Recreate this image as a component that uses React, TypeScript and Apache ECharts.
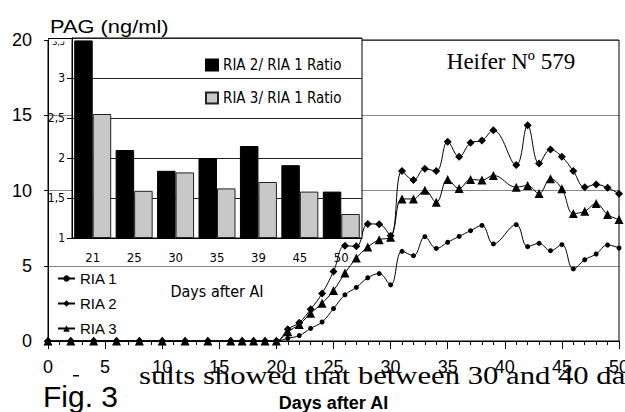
import React, { useEffect, useRef } from "react";
import * as echarts from "echarts";

// ---- Data ----
const days = [0, 2, 4, 6, 8, 10, 12, 14, 16, 17, 18, 19, 20, 21, 22, 23, 24, 25, 26, 27, 28, 29, 30, 31, 32, 33, 34, 35, 36, 37, 38, 39, 41, 42, 43, 44, 45, 46, 47, 48, 49, 50];
const ria1 = [0, 0, 0, 0, 0, 0, 0, 0, 0, 0, 0, 0, 0, 0.18, 0.36, 0.84, 1.26, 2.15, 3.07, 3.56, 4.2, 4.48, 3.73, 5.96, 5.67, 6.93, 6.15, 6.56, 6.95, 7.33, 7.68, 6.45, 7.73, 6.27, 6.49, 6.0, 6.4, 4.79, 5.4, 5.78, 6.38, 6.18];
const ria2 = [0, 0, 0, 0, 0, 0, 0, 0, 0, 0, 0, 0, 0, 0.78, 1.22, 2.11, 3.16, 4.62, 6.33, 6.29, 7.78, 7.76, 7.0, 11.29, 10.69, 11.44, 11.29, 13.24, 12.24, 13.17, 13.33, 14.0, 11.69, 14.33, 11.8, 12.73, 12.24, 11.29, 10.22, 10.4, 10.18, 9.78];
const ria3 = [0, 0, 0, 0, 0, 0, 0, 0, 0, 0, 0, 0, 0, 0.62, 1.1, 1.84, 2.51, 3.36, 4.51, 5.51, 6.24, 6.73, 6.9, 9.44, 9.44, 10.02, 9.22, 10.73, 10.13, 10.73, 10.69, 11.0, 10.22, 10.33, 9.8, 10.78, 10.11, 8.47, 8.62, 9.13, 8.4, 8.07];

const insetDays = ["21", "25", "30", "35", "39", "45", "50"];
const ratio2 = [3.47, 2.1, 1.84, 2.0, 2.15, 1.91, 1.58];
const ratio3 = [2.55, 1.59, 1.82, 1.62, 1.7, 1.58, 1.3];

const seriesNames = ["RIA 1", "RIA 2", "RIA 3"];
const ratioNames = ["RIA 2/ RIA 1 Ratio", "RIA 3/ RIA 1 Ratio"];

const SANS = "'Liberation Sans', Arial, Helvetica, sans-serif";
const COND = "'Liberation Sans Narrow', 'Arial Narrow', 'DejaVu Sans Condensed', sans-serif";
const SERIF = "'Liberation Serif', 'Times New Roman', serif";

function pairs(vals: number[]) {
  return days.map((d, i) => [d, vals[i]]);
}

function buildOption(): any {
  const lineCommon = {
    type: "line",
    xAxisIndex: 0,
    yAxisIndex: 0,
    smooth: 0.4,
    z: 3,
    itemStyle: { color: "#000" },
    lineStyle: { color: "#000", width: 1 },
  };
  return {
    animation: false,
    backgroundColor: "#fff",
    grid: [
      { left: 48, top: 40, width: 571, height: 301, show: true, borderColor: "#000", borderWidth: 1, z: 2, containLabel: false, outerBoundsMode: "none" },
      { left: 72, top: 38, width: 290, height: 200, show: true, backgroundColor: "#fff", borderColor: "#000", borderWidth: 1, z: 5, containLabel: false, outerBoundsMode: "none" },
    ],
    xAxis: [
      {
        gridIndex: 0,
        type: "value",
        min: 0,
        max: 50,
        interval: 5,
        axisLine: { lineStyle: { color: "#000", width: 1 } },
        axisTick: { length: 8, lineStyle: { color: "#000" } },
        minorTick: { show: true, splitNumber: 5, length: 4, lineStyle: { color: "#000" } },
        splitLine: { show: false },
        axisLabel: { fontSize: 18, color: "#000", margin: 17, fontFamily: SANS },
        name: "Days after AI",
        nameLocation: "middle",
        nameGap: 53,
        nameTextStyle: { fontSize: 18, fontWeight: "bold", color: "#000", fontFamily: SANS },
      },
      {
        gridIndex: 1,
        type: "category",
        data: insetDays,
        z: 6,
        axisLine: { lineStyle: { color: "#000" } },
        axisTick: { length: 5, lineStyle: { color: "#000" } },
        axisLabel: { fontSize: 13, margin: 13, color: "#000", fontFamily: COND },
        name: "Days after AI",
        nameLocation: "middle",
        nameGap: 45,
        nameTextStyle: { fontSize: 16, color: "#000", fontFamily: COND },
      },
    ],
    yAxis: [
      {
        gridIndex: 0,
        type: "value",
        min: 0,
        max: 20,
        interval: 5,
        axisLine: { show: true, lineStyle: { color: "#000" } },
        axisTick: { show: true, length: 4, lineStyle: { color: "#000" } },
        splitLine: { show: true, lineStyle: { color: "#888", width: 1 } },
        axisLabel: { fontSize: 18, color: "#000", margin: 16, fontFamily: SANS },
      },
      {
        gridIndex: 1,
        type: "value",
        min: 1,
        max: 3.5,
        interval: 0.5,
        startValue: 1,
        z: 6,
        axisLine: { show: true, lineStyle: { color: "#000" } },
        axisTick: { show: true, length: 5, lineStyle: { color: "#000" } },
        splitLine: { show: true, lineStyle: { color: "#222", width: 1 } },
        axisLabel: {
          fontSize: 12,
          margin: 7,
          color: "#000",
          fontFamily: COND,
          formatter: (v: number) => (v === 3.5 ? "{t|3,5}" : String(v).replace(".", ",")),
          rich: { t: { fontSize: 9, fontFamily: COND, color: "#000", padding: [8, 0, 0, 0] } },
        },
      },
    ],
    legend: [
      {
        data: seriesNames,
        orient: "vertical",
        left: 57,
        top: 271,
        padding: 0,
        itemWidth: 17,
        itemHeight: 8,
        itemGap: 10,
        z: 8,
        textStyle: { fontSize: 15, color: "#000", fontFamily: SANS, lineHeight: 14 },
      },
      {
        data: ratioNames,
        orient: "vertical",
        left: 205,
        top: 57,
        padding: 0,
        icon: "rect",
        itemWidth: 12,
        itemHeight: 11,
        itemGap: 17,
        z: 8,
        textStyle: { fontSize: 15, color: "#000", fontFamily: COND, lineHeight: 16 },
      },
    ],
    series: [
      { ...lineCommon, name: seriesNames[0], data: pairs(ria1), symbol: "circle", symbolSize: 5 },
      { ...lineCommon, name: seriesNames[1], data: pairs(ria2), symbol: "diamond", symbolSize: 8 },
      { ...lineCommon, name: seriesNames[2], data: pairs(ria3), symbol: "triangle", symbolSize: 9 },
      {
        name: ratioNames[0],
        type: "bar",
        xAxisIndex: 1,
        yAxisIndex: 1,
        data: ratio2,
        barWidth: 18.5,
        barGap: "0%",
        z: 7,
        itemStyle: { color: "#000", borderColor: "#000", borderWidth: 1 },
      },
      {
        name: ratioNames[1],
        type: "bar",
        xAxisIndex: 1,
        yAxisIndex: 1,
        data: ratio3,
        barWidth: 18.5,
        barGap: "0%",
        z: 7,
        itemStyle: { color: "#c8c8c8", borderColor: "#222", borderWidth: 1 },
      },
    ],
    graphic: [
      { type: "rect", z: 9, shape: { x: 49, y: 39, width: 22.5, height: 2.5 }, style: { fill: "#fff" } },
      { type: "line", z: 9, shape: { x1: 48, y1: 38.5, x2: 72, y2: 38.5 }, style: { stroke: "#000", lineWidth: 1 } },
      { type: "rect", z: 9, shape: { x: 73, y: 375, width: 6, height: 1.5 }, style: { fill: "#000" } },
      {
        type: "text",
        z: 10,
        x: 50,
        y: 26,
        scaleX: 1.15,
        style: { text: "PAG (ng/ml)", font: `19px ${SANS}`, fill: "#000", align: "left", verticalAlign: "middle", textAlign: "left", textVerticalAlign: "middle" },
      },
      {
        type: "text",
        z: 10,
        x: 511,
        y: 61.5,
        style: { text: "Heifer Nº 579", font: `23px ${SERIF}`, fill: "#000", align: "center", verticalAlign: "middle", textAlign: "center", textVerticalAlign: "middle" },
      },
      {
        type: "text",
        z: 10,
        x: 43,
        y: 396.5,
        style: { text: "Fig. 3", font: `30px ${SANS}`, fill: "#000", align: "left", verticalAlign: "middle", textAlign: "left", textVerticalAlign: "middle" },
      },
      {
        type: "text",
        z: 10,
        x: 139,
        y: 375,
        scaleX: 1.18,
        style: { text: "sults showed that between 30 and 40 da", font: `26px ${SERIF}`, fill: "#000", align: "left", verticalAlign: "middle", textAlign: "left", textVerticalAlign: "middle" },
      },
    ],
  };
}

export default function App() {
  const ref = useRef<HTMLDivElement>(null);
  useEffect(() => {
    if (!ref.current) return;
    const chart = echarts.init(ref.current, null, { renderer: "svg" });
    chart.setOption(buildOption());
    return () => chart.dispose();
  }, []);
  return <div ref={ref} style={{ position: "absolute", left: 0, top: 0, width: 625, height: 412, background: "#fff" }} />;
}
